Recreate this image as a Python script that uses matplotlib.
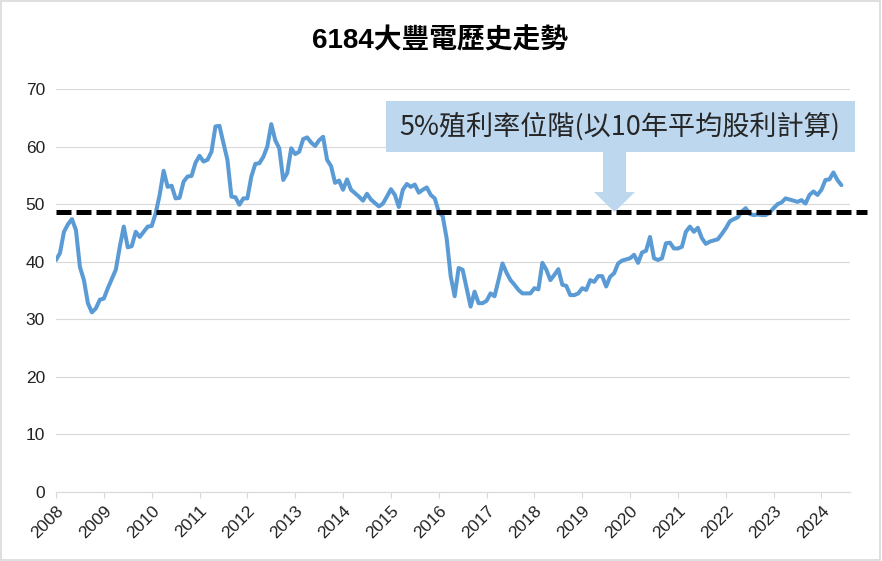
import matplotlib
matplotlib.use('Agg')
import matplotlib.pyplot as plt
import matplotlib.patches as mpatches
import numpy as np

# monthly prices, Jan 2008 - Jun 2024
prices = [
    40.3, 41.5, 45.2, 46.5, 47.4, 45.5, 39.1, 36.8, 32.8, 31.2, 31.9, 33.4,  # 2008
    33.6, 35.4, 37.0, 38.6, 42.6, 46.1, 42.5, 42.7, 45.2, 44.3, 45.2, 46.1,  # 2009
    46.2, 48.4, 51.6, 55.8, 53.0, 53.2, 51.0, 51.1, 53.9, 54.8, 54.9, 57.2,  # 2010
    58.4, 57.4, 57.7, 59.1, 63.5, 63.6, 60.6, 57.7, 51.3, 51.2, 49.9, 51.0,  # 2011
    51.0, 54.8, 57.0, 57.1, 58.2, 60.0, 63.9, 61.1, 59.7, 54.2, 55.4, 59.7,  # 2012
    58.7, 59.1, 61.3, 61.6, 60.7, 60.1, 61.1, 61.7, 57.7, 56.6, 53.7, 54.1,  # 2013
    52.5, 54.3, 52.5, 51.9, 51.3, 50.6, 51.8, 50.8, 50.2, 49.6, 50.1, 51.3,  # 2014
    52.6, 51.6, 49.5, 52.5, 53.5, 53.0, 53.4, 52.0, 52.5, 52.9, 51.6, 51.0,  # 2015
    48.7, 47.9, 44.0, 37.5, 34.0, 38.9, 38.6, 35.4, 32.2, 34.8, 32.8, 32.8,  # 2016
    33.2, 34.5, 34.0, 36.8, 39.7, 38.1, 36.8, 36.0, 35.1, 34.5, 34.5, 34.5,  # 2017
    35.4, 35.2, 39.8, 38.6, 36.8, 37.7, 38.7, 36.0, 35.8, 34.2, 34.2, 34.5,  # 2018
    35.4, 35.1, 36.8, 36.5, 37.5, 37.5, 35.7, 37.4, 38.0, 39.7, 40.2, 40.4,  # 2019
    40.6, 41.2, 39.8, 41.6, 41.9, 44.3, 40.6, 40.3, 40.6, 43.2, 43.3, 42.3,  # 2020
    42.3, 42.6, 45.2, 46.1, 45.2, 45.9, 44.1, 43.1, 43.5, 43.7, 43.9, 44.8,  # 2021
    45.8, 47.0, 47.4, 47.7, 48.7, 49.3, 48.3, 48.1, 48.2, 48.1, 48.1, 48.5,  # 2022
    49.3, 50.0, 50.3, 51.0, 50.8, 50.6, 50.4, 50.7, 50.1, 51.6, 52.2, 51.6,  # 2023
    52.5, 54.2, 54.3, 55.5, 54.2, 53.3,                                      # 2024
]
start_year = 2008
years = list(range(2008, 2025))
yield_level = 48.6
y_ticks = [0, 10, 20, 30, 40, 50, 60, 70]

title = '6184大豐電歷史走勢'
note = '5%殖利率位階(以10年平均股利計算)'

W, H = 882, 561


def px(x, y):
    # pixel position -> figure fraction
    return (x / W, 1 - y / H)


def main():
    plt.rcParams['font.family'] = ['Liberation Sans', 'Noto Sans CJK TC']

    fig = plt.figure(figsize=(W / 100, H / 100), dpi=100)
    ax = fig.add_axes([56 / W, 1 - 492 / H, (850 - 56) / W, (492 - 89) / H])

    x = start_year + np.arange(len(prices)) / 12
    ax.plot(x, prices, color='#5B9BD5', lw=2.9, solid_joinstyle='round',
            solid_capstyle='round', zorder=3)

    # 5% yield level
    ax.plot([start_year, 2024.96], [yield_level, yield_level], color='black',
            lw=3.6, dashes=(3, 1), dash_capstyle='butt', clip_on=False, zorder=4)

    ax.set_xlim(2008, 2024.597)
    ax.set_ylim(0, 70)
    ax.set_yticks(y_ticks)
    ax.set_xticks(years)
    ax.set_xticklabels([str(y) for y in years], rotation=45, ha='right',
                       va='top', rotation_mode='anchor')

    for s in ['top', 'right', 'left']:
        ax.spines[s].set_visible(False)
    ax.spines['bottom'].set_color('#D9D9D9')
    ax.spines['bottom'].set_linewidth(0.8)

    ax.yaxis.grid(True, color='#D9D9D9', lw=0.8)
    ax.set_axisbelow(True)
    ax.tick_params(axis='y', length=0, pad=8, labelsize=12.5, labelcolor='#222222')
    ax.tick_params(axis='x', length=4, color='#D9D9D9', pad=4, labelsize=12.5,
                   labelcolor='#222222')

    # title
    fig.text(*px(440, 41), title, ha='center', va='center', fontsize=20,
             fontweight='bold', color='black')

    # note box + arrow
    x0, y0 = px(386, 152)
    box = mpatches.Rectangle((x0, y0), (855 - 386) / W, (152 - 101) / H,
                             transform=fig.transFigure, facecolor='#BDD7EE',
                             edgecolor='none', zorder=5)
    fig.patches.append(box)
    fig.text(*px(620, 127), note, ha='center', va='center', fontsize=19.5,
             color='#262626', family=['Noto Sans CJK TC'], zorder=6)

    arrow_pts = [px(603, 151), px(626, 151), px(626, 192), px(635, 192),
                 px(614.5, 212), px(594, 192), px(603, 192)]
    arrow = mpatches.Polygon(arrow_pts, closed=True, transform=fig.transFigure,
                             facecolor='#BDD7EE', edgecolor='none', zorder=5)
    fig.patches.append(arrow)

    # outer border
    border = mpatches.Rectangle((0.001, 0.001), 0.997, 0.997, transform=fig.transFigure,
                                facecolor='none', edgecolor='#D9D9D9', lw=1.2)
    fig.patches.append(border)

    fig.savefig('out.png', dpi=100)


if __name__ == '__main__':
    main()
